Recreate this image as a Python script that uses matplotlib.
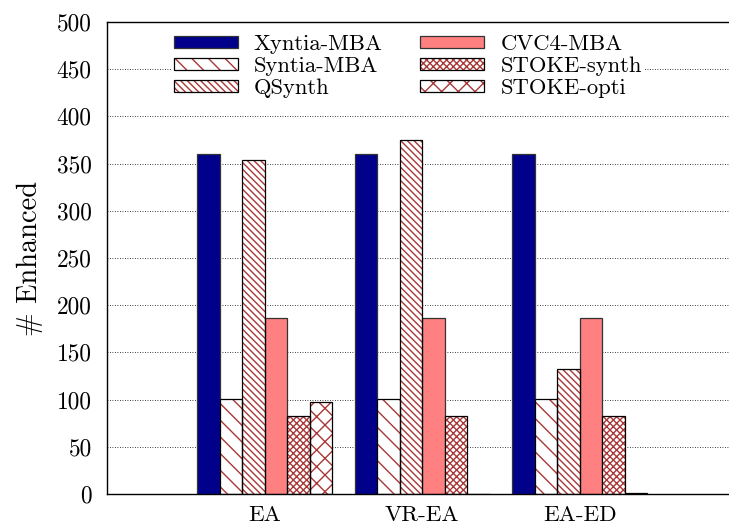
import numpy as np
import matplotlib
matplotlib.use('Agg')
import matplotlib.pyplot as plt
from matplotlib.legend_handler import HandlerTuple

plt.rcParams['font.family'] = 'serif'
plt.rcParams['font.serif'] = ['cmr10']
plt.rcParams['mathtext.fontset'] = 'cm'
plt.rcParams['axes.formatter.use_mathtext'] = True
plt.rcParams['hatch.linewidth'] = 1.0

groups = ['EA', 'VR-EA', 'EA-ED']
tools = ['Xyntia-MBA', 'Syntia-MBA', 'QSynth', 'CVC4-MBA', 'STOKE-synth', 'STOKE-opti']
xyntia = [360, 360, 360]
syntia = [101, 101, 101]
qsynth = [354, 375, 132]
cvc4 = [186, 186, 186]
stoke_synth = [83, 83, 83]
stoke_opti = [97, 0, 1]
series = [xyntia, syntia, qsynth, cvc4, stoke_synth, stoke_opti]

yticks = [0, 50, 100, 150, 200, 250, 300, 350, 400, 450, 500]

hatch_col = '#a83838'
faces = ['#00008b', 'white', 'white', '#ff8080', 'white', 'white']
hatches = [None, '\\\\', '\\\\\\\\\\', None, 'xxxxx', 'xx']

fig = plt.figure(figsize=(7.29, 5.27), dpi=100)
ax = fig.add_axes([107 / 729, 33 / 527, 630.5 / 729, 472 / 527])

x = np.arange(len(groups))
w = 1 / 7
handles = []
for i, (vals, name) in enumerate(zip(series, tools)):
    pos = x + (i - 2.5) * w
    if hatches[i]:
        # hatch in red, outline in black: draw twice
        ax.bar(pos, vals, w, color=faces[i], edgecolor=hatch_col, hatch=hatches[i], linewidth=0, zorder=2)
        ax.bar(pos, vals, w, fill=False, edgecolor='black', linewidth=0.9, zorder=3)
        h1 = plt.Rectangle((0, 0), 1, 1, facecolor=faces[i], edgecolor=hatch_col, hatch=hatches[i], linewidth=0)
        h2 = plt.Rectangle((0, 0), 1, 1, fill=False, edgecolor='black', linewidth=0.9)
        handles.append((h1, h2))
    else:
        ax.bar(pos, vals, w, color=faces[i], edgecolor='#333333', linewidth=0.9, zorder=2)
        handles.append(plt.Rectangle((0, 0), 1, 1, facecolor=faces[i], edgecolor='#333333', linewidth=0.9))

ax.set_xlim(-1, 3)
ax.set_ylim(0, 500)
ax.set_xticks(x)
ax.set_xticklabels(groups, fontsize=16.5)
ax.set_yticks(yticks)
ax.set_yticklabels([str(v) for v in yticks], fontsize=16.8)
ax.tick_params(axis='y', length=0, pad=11)
ax.tick_params(axis='x', length=0, pad=8)
ax.set_ylabel('# Enhanced', fontsize=20.5, labelpad=10)
ax.yaxis.grid(True, linestyle=(0, (1, 2)), color='black', linewidth=0.6, zorder=0)
ax.set_axisbelow(True)
for s in ax.spines.values():
    s.set_linewidth(1.0)

leg = fig.legend(handles, tools, ncol=2, loc='upper left', bbox_to_anchor=(160 / 729, 1 - 21 / 527),
                 fontsize=16.3, frameon=True, edgecolor='none', facecolor='white', framealpha=1,
                 handlelength=2.84, handleheight=0.44, handletextpad=0.7, columnspacing=1.66,
                 labelspacing=0.1, borderpad=0.1, fancybox=False,
                 handler_map={tuple: HandlerTuple(ndivide=1, pad=0)})

fig.savefig('out.png', dpi=100)
